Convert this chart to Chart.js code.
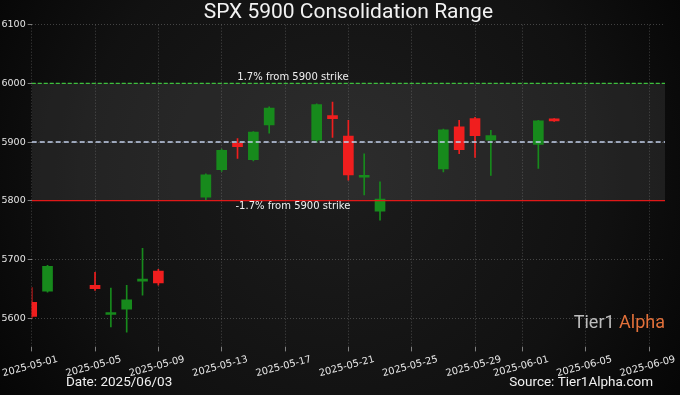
<!DOCTYPE html>
<html><head><meta charset="utf-8">
<script src="https://cdn.jsdelivr.net/npm/chart.js@4.4.1/dist/chart.umd.min.js"></script>
<style>html,body{margin:0;padding:0;background:#080808;overflow:hidden}#wrap{width:680px;height:395px;position:relative}</style>
</head><body><div id="wrap"><canvas id="c" width="680" height="395"></canvas></div>
<script>
// ---- data ----
const dates = ['2025-05-01','2025-05-02','2025-05-05','2025-05-06','2025-05-07','2025-05-08','2025-05-09',
  '2025-05-12','2025-05-13','2025-05-14','2025-05-15','2025-05-16','2025-05-19','2025-05-20','2025-05-21',
  '2025-05-22','2025-05-23','2025-05-27','2025-05-28','2025-05-29','2025-05-30','2025-06-02','2025-06-03'];
const openP  = [5627,5646,5656,5606,5615,5663,5680,5806,5853,5898,5870,5929,5903,5945,5910,5840,5782,5854,5926,5940,5903,5896,5938];
const closeP = [5603,5688,5650,5609,5631,5665,5660,5844,5886,5892,5917,5958,5964,5940,5844,5843,5803,5921,5887,5911,5911,5936,5936];
const highP  = [5652,5690,5678,5651,5656,5719,5683,5846,5888,5906,5918,5960,5965,5968,5937,5880,5832,5922,5937,5942,5920,5937,5940];
const lowP   = [5600,5644,5647,5585,5576,5639,5656,5800,5850,5872,5868,5915,5900,5908,5835,5810,5767,5849,5880,5874,5843,5855,5935];
const xTickDates = ['2025-05-01','2025-05-05','2025-05-09','2025-05-13','2025-05-17','2025-05-21','2025-05-25',
  '2025-05-29','2025-06-01','2025-06-05','2025-06-09'];
const yTicks = [5600,5700,5800,5900,6000,6100];
const xRange = ['2025-05-01','2025-06-10'];
const yRange = [5550,6100];
const strike = 5900, upperBand = 6000, lowerBand = 5800;
const upperLabel = '1.7% from 5900 strike';
const lowerLabel = '-1.7% from 5900 strike';
const titleText = 'SPX 5900 Consolidation Range';
const dateText = 'Date: 2025/06/03';
const sourceText = 'Source: Tier1Alpha.com';

// ---- helpers ----
const base = Date.UTC(2025,4,1);
function dayIdx(s){const [y,m,d]=s.split('-').map(Number);return (Date.UTC(y,m-1,d)-base)/86400000;}
function dayLabel(v){const t=new Date(base+v*86400000);return t.toISOString().slice(0,10);}
const GREEN='#178a1c', RED='#f01e1e';
const colors = openP.map((o,i)=> closeP[i]>=o ? GREEN : RED);
const xMin = dayIdx(xRange[0]), xMax = dayIdx(xRange[1]);
const hline = v => [{x:xMin,y:v},{x:xMax,y:v}];

const bgPlugin = {
  id:'bg',
  beforeDraw(chart){
    const ctx=chart.ctx, w=chart.width, h=chart.height;
    const g=ctx.createRadialGradient(w*0.5,h*0.45,20,w*0.5,h*0.45,w*0.62);
    g.addColorStop(0,'#1b1b1b'); g.addColorStop(0.6,'#111111'); g.addColorStop(1,'#040404');
    ctx.save(); ctx.fillStyle=g; ctx.fillRect(0,0,w,h); ctx.restore();
  }
};
const textPlugin = {
  id:'texts',
  afterDatasetsDraw(chart){
    const ctx=chart.ctx, xs=chart.scales.x, ys=chart.scales.y;
    const cx = xs.getPixelForValue(16.5);
    ctx.save();
    ctx.fillStyle='#f0f0f0'; ctx.font='10px "DejaVu Sans"'; ctx.textAlign='center';
    ctx.textBaseline='bottom'; ctx.fillText(upperLabel,cx,ys.getPixelForValue(upperBand)-1);
    ctx.textBaseline='top'; ctx.fillText(lowerLabel,cx,ys.getPixelForValue(lowerBand)+1);
    ctx.restore();
  },
  afterDraw(chart){
    const ctx=chart.ctx, a=chart.chartArea;
    ctx.save();
    ctx.fillStyle='#f2f2f2'; ctx.font='21px Roboto'; ctx.textAlign='center'; ctx.textBaseline='middle';
    ctx.fillText(titleText,(a.left+a.right)/2,13);
    ctx.font='13.5px Roboto'; ctx.fillStyle='#f0f0f0';
    ctx.textAlign='left'; ctx.fillText(dateText,66,383);
    ctx.textAlign='right'; ctx.fillText(sourceText,653,383);
    // logo
    ctx.font='18px Roboto'; ctx.textAlign='left';
    const t1='Tier1 ', t2='Alpha';
    const w1=ctx.measureText(t1).width, w2=ctx.measureText(t2).width;
    const lx=665-w1-w2;
    ctx.fillStyle='#bdbdbd'; ctx.fillText(t1,lx,323);
    ctx.fillStyle='#e2703a'; ctx.fillText(t2,lx+w1,323);
    ctx.restore();
  }
};

new Chart(document.getElementById('c'),{
  type:'bar',
  data:{datasets:[
    {type:'line',label:'upper',data:hline(upperBand),borderColor:'#3cc03c',borderWidth:1.4,borderDash:[4,2],
      pointRadius:0,fill:{target:2},backgroundColor:'rgba(150,150,150,0.14)',order:0},
    {type:'line',label:'strike',data:hline(strike),borderColor:'#c2d0ea',borderWidth:1.5,borderDash:[5,3],
      pointRadius:0,fill:false,order:0},
    {type:'line',label:'lower',data:hline(lowerBand),borderColor:'#e01818',borderWidth:1.2,
      pointRadius:0,fill:false,order:0},
    {label:'wick',data:dates.map((d,i)=>({x:dayIdx(d),y:[lowP[i],highP[i]]})),backgroundColor:colors,
      barThickness:1,grouped:false,borderWidth:0,order:2},
    {label:'body',data:dates.map((d,i)=>({x:dayIdx(d),y:[openP[i],closeP[i]]})),backgroundColor:colors,
      barThickness:10,grouped:false,borderWidth:0,minBarLength:2,order:1}
  ]},
  options:{
    responsive:false,animation:false,devicePixelRatio:1,
    layout:{padding:{left:0,right:15,top:24.7,bottom:0}},
    plugins:{legend:{display:false},tooltip:{enabled:false},filler:{drawTime:'beforeDatasetsDraw'}},
    scales:{
      x:{type:'linear',min:xMin,max:xMax,offset:false,
        grid:{offset:false,color:'rgba(200,200,200,0.28)',tickColor:'rgba(200,200,200,0.6)',tickLength:4,lineWidth:1},
        border:{display:false,dash:[1,2]},
        afterBuildTicks(s){s.ticks=xTickDates.map(d=>({value:dayIdx(d)}));},
        afterFit(s){s.height=47.6;s.paddingLeft=0;s.paddingRight=0;},
        ticks:{autoSkip:false,minRotation:15,maxRotation:15,labelOffset:26,padding:2,color:'#e6e6e6',
          font:{family:'DejaVu Sans',size:9.8},callback:v=>dayLabel(v)}
      },
      y:{min:yRange[0],max:yRange[1],
        grid:{color:'rgba(200,200,200,0.28)',tickColor:'rgba(200,200,200,0.6)',tickLength:4,lineWidth:1},
        border:{display:false,dash:[1,2]},
        afterBuildTicks(s){s.ticks=yTicks.map(v=>({value:v}));},
        afterFit(s){s.width=31.7;s.paddingTop=0;s.paddingBottom=0;},
        ticks:{color:'#e6e6e6',padding:2,font:{family:'DejaVu Sans',size:9.5},callback:v=>String(v)}
      }
    }
  },
  plugins:[bgPlugin,textPlugin]
});
</script></body></html>
